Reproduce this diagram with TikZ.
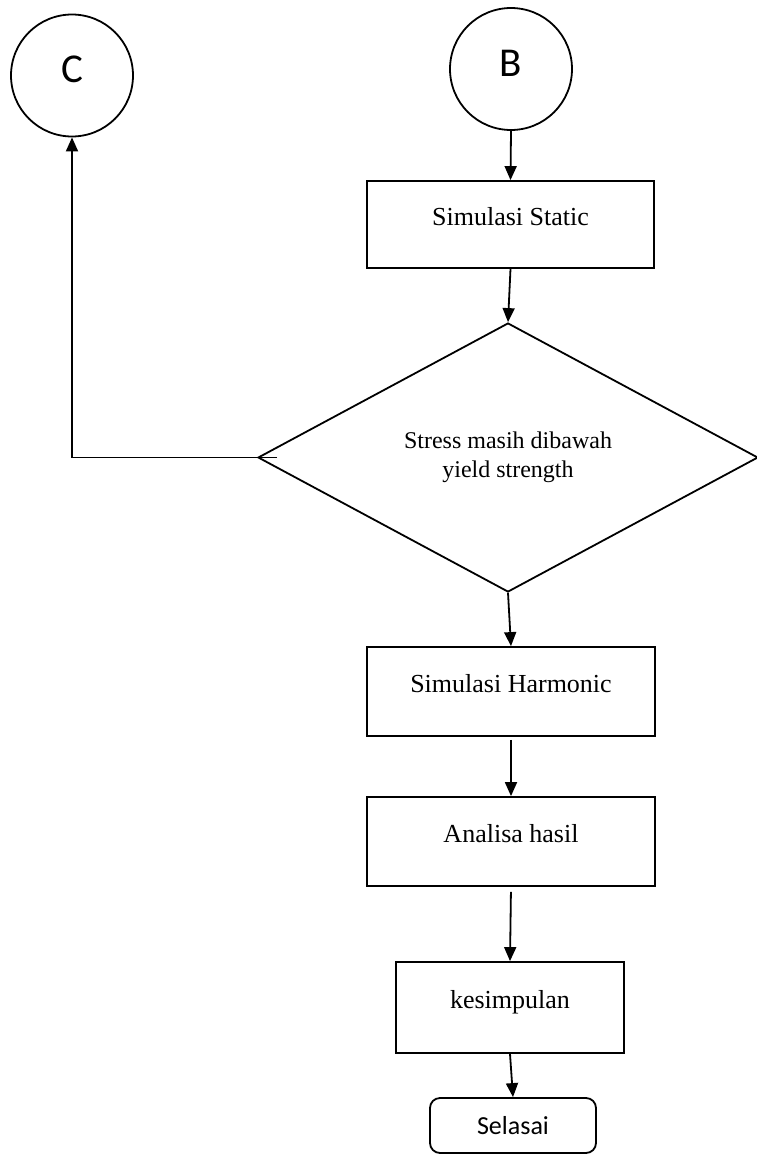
\documentclass[tikz,border=0pt]{standalone}
\usepackage{fontspec}
\setmainfont{Liberation Serif}
\newfontfamily\carlito{Carlito}
\usetikzlibrary{shapes.geometric,arrows.meta}
\begin{document}
\begin{tikzpicture}[x=1pt,y=-1pt,
  line width=1.8pt,
  conn/.style={-{Triangle[width=12pt,length=14pt]}},
  stepbox/.style={draw,rectangle,inner sep=0pt,font=\fontsize{26}{30}\selectfont,text height=18pt,text depth=16pt},
  conncircle/.style={draw,circle,inner sep=0pt,minimum size=122pt,font=\carlito\fontsize{41}{48}\selectfont,text height=27pt,text depth=13pt},
  decision/.style={draw,diamond,inner sep=0pt,font=\fontsize{24}{29}\selectfont,align=center},
  terminal/.style={draw,rectangle,rounded corners=10pt,inner sep=0pt,font=\carlito\fontsize{26}{30}\selectfont}]
\useasboundingbox (0,0) rectangle (757,1154);
\node[conncircle] (C) at (72,75.5) {C};
\node[conncircle] (B) at (511,69) {B};
\node[stepbox,minimum width=287pt,minimum height=87pt] (s1) at (510.5,224.5) {Simulasi Static};
\node[decision,minimum width=500pt,minimum height=269pt] (d) at (508,457.5) {Stress masih dibawah\\yield strength};
\node[stepbox,minimum width=288pt,minimum height=89pt] (s2) at (511,691.5) {Simulasi Harmonic};
\node[stepbox,minimum width=288pt,minimum height=89pt] (s3) at (511,841.5) {Analisa hasil};
\node[stepbox,minimum width=228pt,minimum height=91pt] (s4) at (510,1007.5) {kesimpulan};
\node[terminal,minimum width=166pt,minimum height=55pt] (fin) at (513,1125.5) {Selasai};
\draw[conn] (B.south) -- (s1.north);
\draw[conn] (s1.south) -- (d.north);
\draw[conn] ([xshift=20pt]d.west) -- (d.west -| C.south) -- (C.south);
\draw[conn] (d.south) -- (s2.north);
\draw[conn,shorten <=3pt] (s2.south) -- (s3.north);
\draw[conn,shorten <=5pt] (s3.south) -- (s4.north);
\draw[conn] (s4.south) -- (fin.north);
\end{tikzpicture}
\end{document}
